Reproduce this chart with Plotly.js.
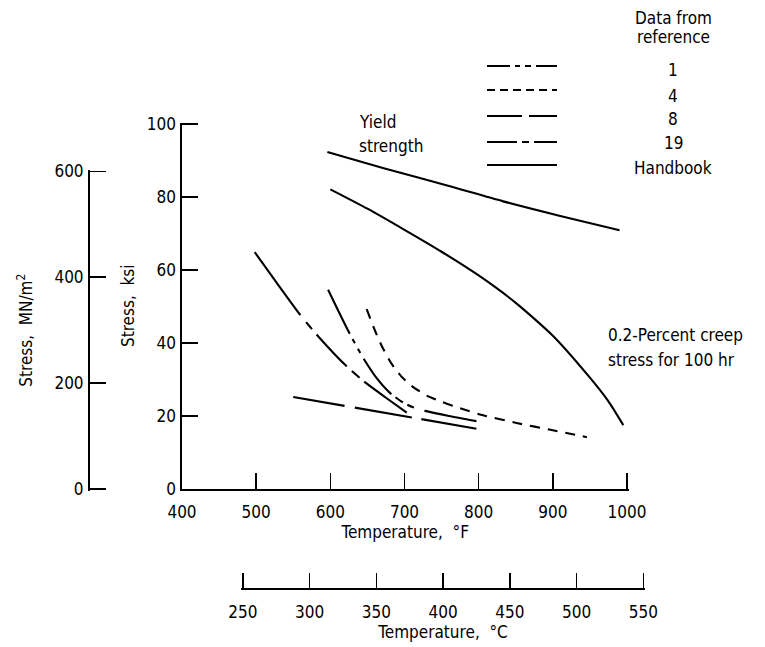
<!DOCTYPE html>
<html>
<head>
<meta charset="utf-8">
<script src="https://cdn.plot.ly/plotly-3.0.1.min.js"></script>
<style>html,body{margin:0;padding:0;background:#fff;}#chart{width:765px;height:647px;}</style>
</head>
<body>
<div id="chart"></div>
<script>
// ---------------- data (temperature in deg F, stress in ksi) ----------------
const yieldF   = [596, 672, 760, 833, 910, 990];
const yieldKsi = [92.3, 87.9, 83.0, 78.8, 74.8, 70.9];

const handbookF   = [600, 650, 700, 750, 800, 850, 900, 950, 975, 995];
const handbookKsi = [82.1, 76.8, 71.0, 65.0, 58.5, 51.0, 42.0, 30.5, 24.0, 17.5];

const ref1F   = [597, 612, 626, 644, 662, 680, 698, 714, 728, 760, 797];
const ref1Ksi = [54.6, 48.3, 42.6, 36.0, 30.5, 26.4, 23.7, 22.2, 21.4, 20.0, 18.6];

const ref4F   = [649, 660, 670, 682, 695, 710, 730, 750, 775, 806, 851, 900, 946];
const ref4Ksi = [49.3, 43.5, 38.9, 34.5, 31.0, 28.2, 25.6, 23.9, 22.1, 20.2, 18.1, 16.1, 14.2];

const ref8F   = [550, 710, 800];
const ref8Ksi = [25.2, 19.6, 16.4];

const ref19F   = [498, 528, 559, 582, 622, 647, 675, 703];
const ref19Ksi = [64.9, 56.4, 47.8, 42.2, 33.6, 29.2, 25.0, 20.9];

const legendLabels = ['1', '4', '8', '19', 'Handbook'];
const fTicks   = [400, 500, 600, 700, 800, 900, 1000];
const cTicks   = [250, 300, 350, 400, 450, 500, 550];
const ksiTicks = [0, 20, 40, 60, 80, 100];
const mpaTicks = [0, 200, 400, 600];

// ---------------- styles ----------------
const dashes = {
  ref1:  '49px,6px,5px,6px,5px,7px,45px,5px,9px,5px,7px,11px,60px',
  ref4:  '10px,8px',
  ref8:  '52px,10px,58px,10px,56px,10px',
  ref19: '78px,9px,9px,7px,44px,7px,10px,6px,60px'
};
const legendDashes = ['23px,5px,5px,5px,6px,5px', '8px,5px', '35px,7px', '30px,5px,7px,5px', 'solid'];

const FONT = 'DejaVu Sans Condensed, Liberation Sans Narrow, DejaVu Sans, sans-serif';
const FS = 17;
const W = 765, H = 647;
const M = {l: 60, r: 118, t: 122, b: 40};
const pw = W - M.l - M.r, ph = H - M.t - M.b;
const px = x => (x - M.l) / pw;
const py = y => (H - M.b - y) / ph;

const KSI_PER_MPA = 1 / 6.894757;
// pixel frame of the main (deg F / ksi) axes
const X0 = 182, X1 = 627, Y0 = 489, Y1 = 124;
const F_LO = 400, F_HI = 1000, K_LO = 0, K_HI = 100;
const pxPerF = (X1 - X0) / (F_HI - F_LO), pxPerK = (Y0 - Y1) / (K_HI - K_LO);
const PAD = 1.5; // px of range padding so that end ticks are drawn
const fRange = [F_LO, F_HI + PAD / pxPerF];
const kRange = [K_LO, K_HI + PAD / pxPerK];
const xDom = [px(X0), px(X1 + PAD)];
const yDom = [py(Y0), py(Y1 - PAD)];
const fToPx = f => X0 + (f - F_LO) * pxPerF;
const kToPx = k => Y0 - (k - K_LO) * pxPerK;
const c2f = c => c * 9 / 5 + 32;
const cPad = PAD / pxPerF * 5 / 9;
const cRange = [cTicks[0] - cPad, cTicks[cTicks.length - 1] + cPad];
const mPad = PAD / pxPerK / KSI_PER_MPA;
const mRange = [mpaTicks[0] - mPad, mpaTicks[mpaTicks.length - 1] + mPad];

const lw = 2.1;
function tr(x, y, name, dash, smooth) {
  return {x: x, y: y, name: name, type: 'scatter', mode: 'lines',
    line: {color: '#000', width: lw, dash: dash, shape: 'spline', smoothing: smooth},
    showlegend: false, hoverinfo: 'skip'};
}

const traces = [
  tr(yieldF, yieldKsi, 'Yield strength (Handbook)', 'solid', 0.8),
  tr(handbookF, handbookKsi, 'Handbook', 'solid', 0.6),
  tr(ref1F, ref1Ksi, 'Reference 1', dashes.ref1, 0.6),
  tr(ref4F, ref4Ksi, 'Reference 4', dashes.ref4, 0.6),
  tr(ref8F, ref8Ksi, 'Reference 8', dashes.ref8, 0),
  tr(ref19F, ref19Ksi, 'Reference 19', dashes.ref19, 0.6),
  {x: [null], y: [null], xaxis: 'x2', yaxis: 'y2', type: 'scatter', mode: 'lines', showlegend: false, hoverinfo: 'skip'}
];

const tf = {family: FONT, size: FS, color: '#000'};
const axisCommon = {
  showline: true, linecolor: '#000', linewidth: 1.6,
  ticks: 'inside', ticklen: 16, tickwidth: 1.6, tickcolor: '#000',
  showgrid: false, zeroline: false, tickfont: tf, fixedrange: true
};

// legend (drawn as shapes + annotations)
const legLineY = [66, 90, 116, 142, 165];
const legTextY = [70, 96, 119, 143, 168];
const shapes = legendLabels.map((lab, i) => ({
  type: 'line', xref: 'paper', yref: 'paper',
  x0: px(487), x1: px(557), y0: py(legLineY[i]), y1: py(legLineY[i]),
  line: {color: '#000', width: lw, dash: legendDashes[i]}
}));
const ann = (text, x, y, xanchor) => ({text: text, xref: 'paper', yref: 'paper', x: px(x), y: py(y),
  xanchor: xanchor || 'center', yanchor: 'middle', showarrow: false, font: tf});
const annotations = [
  ann('Data from', 673, 18), ann('reference', 673, 37),
  ...legendLabels.map((lab, i) => ann(lab, 673, legTextY[i])),
  ann('Yield', 357, 122, 'left'), ann('strength', 357, 146, 'left'),
  ann('0.2-Percent creep', 606, 335, 'left'), ann('stress for 100 hr', 606, 360, 'left')
];

const layout = {
  width: W, height: H, margin: M, paper_bgcolor: '#fff', plot_bgcolor: 'rgba(0,0,0,0)',
  showlegend: false, font: tf,
  xaxis: Object.assign({}, axisCommon, {domain: xDom, range: fRange, tickvals: fTicks, anchor: 'y',
    ticklabelstandoff: 7,
    title: {text: 'Temperature,  \u00b0F', font: tf, standoff: 0}}),
  yaxis: Object.assign({}, axisCommon, {domain: yDom, range: kRange, tickvals: ksiTicks, anchor: 'x',
    ticklabelstandoff: 1,
    title: {text: 'Stress,  ksi', font: tf, standoff: 8}}),
  xaxis2: Object.assign({}, axisCommon, {
    domain: [px(fToPx(c2f(cRange[0]))), px(fToPx(c2f(cRange[1])))], range: cRange, tickvals: cTicks,
    anchor: 'free', position: py(588), side: 'bottom', ticklen: 15, ticklabelstandoff: 8,
    title: {text: 'Temperature,  \u00b0C', font: tf, standoff: 2}}),
  yaxis2: Object.assign({}, axisCommon, {
    domain: [py(kToPx(mRange[0] * KSI_PER_MPA)), py(kToPx(mRange[1] * KSI_PER_MPA))], range: mRange, tickvals: mpaTicks,
    anchor: 'free', position: px(88), side: 'left', ticklabelstandoff: 1,
    title: {text: 'Stress,  MN/m<sup>2</sup>', font: tf, standoff: 16}}),
  shapes: shapes,
  annotations: annotations
};

Plotly.newPlot('chart', traces, layout, {displayModeBar: false, staticPlot: true});
</script>
</body>
</html>
